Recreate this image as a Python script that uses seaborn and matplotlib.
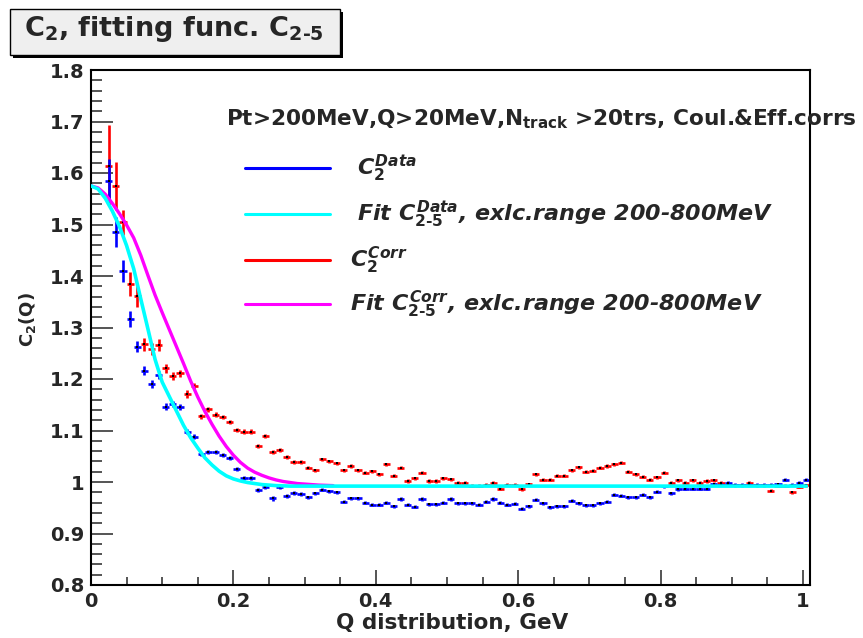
import numpy as np
import pandas as pd
import matplotlib
matplotlib.use("Agg")
import matplotlib.pyplot as plt
import seaborn as sns
from matplotlib.lines import Line2D
from matplotlib.patches import Rectangle
from matplotlib.ticker import MultipleLocator, FixedLocator

# ---------------------------------------------------------------- data
BIN_WIDTH = 0.01
q_centers = np.round(np.arange(0.025, 1.0051, BIN_WIDTH), 3)   # 99 bins, Q > 20 MeV

c2_data = [
    1.585, 1.486, 1.410, 1.317, 1.263, 1.216, 1.190, 1.208, 1.146, 1.151,
    1.145, 1.098, 1.088, 1.055, 1.058, 1.059, 1.052, 1.046, 1.025, 1.007,
    1.008, 0.985, 0.990, 0.968, 0.990, 0.972, 0.979, 0.977, 0.970, 0.978,
    0.985, 0.982, 0.980, 0.962, 0.968, 0.968, 0.960, 0.956, 0.956, 0.960,
    0.953, 0.967, 0.956, 0.952, 0.967, 0.957, 0.957, 0.960, 0.967, 0.959,
    0.959, 0.959, 0.956, 0.962, 0.967, 0.960, 0.956, 0.958, 0.948, 0.953,
    0.966, 0.959, 0.951, 0.953, 0.953, 0.964, 0.959, 0.955, 0.955, 0.959,
    0.962, 0.975, 0.973, 0.970, 0.970, 0.975, 0.970, 0.981, 0.992, 0.978,
    0.986, 0.987, 0.987, 0.987, 0.987, 0.996, 0.995, 0.999, 0.995, 0.995,
    0.995, 0.995, 0.995, 0.995, 0.996, 1.004, 0.995, 0.999, 1.004,
]
c2_data_err = [
    0.042, 0.029, 0.021, 0.016, 0.011, 0.009, 0.008, 0.008, 0.007, 0.006,
    0.006, 0.005, 0.005, 0.004, 0.004, 0.004, 0.004, 0.004, 0.004, 0.004,
    0.004, 0.004, 0.004, 0.004, 0.004, 0.004, 0.004, 0.004, 0.003, 0.003,
    0.003, 0.003, 0.003, 0.003, 0.003, 0.003, 0.003, 0.003, 0.003, 0.003,
    0.003, 0.003, 0.003, 0.003, 0.003, 0.003, 0.003, 0.003, 0.003, 0.003,
    0.003, 0.003, 0.003, 0.003, 0.003, 0.003, 0.003, 0.003, 0.003, 0.003,
    0.003, 0.003, 0.003, 0.003, 0.003, 0.003, 0.003, 0.003, 0.003, 0.003,
    0.003, 0.003, 0.003, 0.003, 0.003, 0.003, 0.003, 0.003, 0.003, 0.003,
    0.003, 0.003, 0.003, 0.003, 0.003, 0.003, 0.003, 0.003, 0.003, 0.003,
    0.003, 0.003, 0.003, 0.003, 0.003, 0.003, 0.003, 0.003, 0.003,
]

c2_corr = [
    1.614, 1.575, 1.504, 1.384, 1.361, 1.267, 1.258, 1.266, 1.221, 1.206,
    1.211, 1.171, 1.187, 1.128, 1.141, 1.131, 1.126, 1.117, 1.101, 1.098,
    1.098, 1.070, 1.090, 1.059, 1.062, 1.048, 1.039, 1.039, 1.028, 1.023,
    1.044, 1.040, 1.036, 1.023, 1.031, 1.023, 1.018, 1.021, 1.015, 1.034,
    1.012, 1.028, 1.002, 1.007, 1.018, 1.002, 1.002, 1.007, 1.005, 0.999,
    0.999, 0.993, 0.993, 0.995, 0.999, 0.987, 0.995, 0.995, 0.986, 0.996,
    1.015, 1.004, 1.004, 1.012, 1.012, 1.023, 1.029, 1.020, 1.022, 1.028,
    1.031, 1.034, 1.037, 1.020, 1.015, 1.010, 1.004, 1.009, 1.018, 0.999,
    1.003, 0.999, 1.003, 0.999, 1.002, 1.003, 0.998, 0.995, 0.994, 0.994,
    0.999, 0.994, 0.994, 0.983, 0.993, 0.993, 0.980, 0.991, 0.994,
]
c2_corr_err = [
    0.079, 0.047, 0.024, 0.023, 0.021, 0.013, 0.011, 0.011, 0.009, 0.008,
    0.007, 0.007, 0.006, 0.005, 0.005, 0.004, 0.004, 0.004, 0.004, 0.004,
    0.004, 0.004, 0.004, 0.004, 0.004, 0.004, 0.004, 0.004, 0.003, 0.003,
    0.003, 0.003, 0.003, 0.003, 0.003, 0.003, 0.003, 0.003, 0.003, 0.003,
    0.003, 0.003, 0.003, 0.003, 0.003, 0.003, 0.003, 0.003, 0.003, 0.003,
    0.003, 0.003, 0.003, 0.003, 0.003, 0.003, 0.003, 0.003, 0.003, 0.003,
    0.003, 0.003, 0.003, 0.003, 0.003, 0.003, 0.003, 0.003, 0.003, 0.003,
    0.003, 0.003, 0.003, 0.003, 0.003, 0.003, 0.003, 0.003, 0.003, 0.003,
    0.003, 0.003, 0.003, 0.003, 0.003, 0.003, 0.003, 0.003, 0.003, 0.003,
    0.003, 0.003, 0.003, 0.003, 0.003, 0.003, 0.003, 0.003, 0.003,
]

# fitted C2-5 curves (sampled)
fit_data_q = [0.00, 0.01, 0.02, 0.03, 0.04, 0.05, 0.06, 0.07, 0.08, 0.09,
              0.10, 0.11, 0.12, 0.13, 0.14, 0.15, 0.16, 0.17, 0.18, 0.19,
              0.20, 0.21, 0.22, 0.23, 0.24, 0.25, 0.26, 0.28, 0.30, 1.005]
fit_data_c = [1.575, 1.569, 1.551, 1.526, 1.496, 1.459, 1.414, 1.355, 1.297, 1.238,
              1.194, 1.166, 1.138, 1.110, 1.086, 1.066, 1.047, 1.033, 1.021, 1.012,
              1.006, 1.002, 0.999, 0.997, 0.995, 0.994, 0.993, 0.992, 0.992, 0.992]

fit_corr_q = [0.00, 0.01, 0.02, 0.03, 0.04, 0.05, 0.06, 0.07, 0.08, 0.09,
              0.10, 0.11, 0.12, 0.13, 0.14, 0.15, 0.16, 0.17, 0.18, 0.19,
              0.20, 0.21, 0.22, 0.23, 0.24, 0.25, 0.26, 0.27, 0.28, 0.29,
              0.30, 0.32, 0.34]
fit_corr_c = [1.575, 1.571, 1.559, 1.541, 1.521, 1.499, 1.474, 1.440, 1.401, 1.363,
              1.329, 1.296, 1.263, 1.230, 1.196, 1.165, 1.137, 1.112, 1.089, 1.069,
              1.052, 1.038, 1.027, 1.019, 1.013, 1.008, 1.004, 1.001, 0.999, 0.997,
              0.996, 0.994, 0.993]

x_ticks = [0.0, 0.2, 0.4, 0.6, 0.8, 1.0]
x_tick_labels = ["0", "0.2", "0.4", "0.6", "0.8", "1"]
y_ticks = [0.8, 0.9, 1.0, 1.1, 1.2, 1.3, 1.4, 1.5, 1.6, 1.7, 1.8]
y_tick_labels = ["0.8", "0.9", "1", "1.1", "1.2", "1.3", "1.4", "1.5", "1.6", "1.7", "1.8"]

# ---------------------------------------------------------------- style
sns.set_style("ticks")
plt.rcParams["font.family"] = ["DejaVu Sans"]
plt.rcParams["font.weight"] = "bold"
plt.rcParams["mathtext.fontset"] = "custom"
plt.rcParams["mathtext.rm"] = "DejaVu Sans:bold"
plt.rcParams["mathtext.bf"] = "DejaVu Sans:bold"
plt.rcParams["mathtext.it"] = "DejaVu Sans:italic:bold"
plt.rcParams["mathtext.default"] = "rm"

BLUE, CYAN, RED, MAGENTA = "#0000ff", "#00ffff", "#ff0000", "#ff00ff"
HYPHEN = "\u2010"

W, H = 863, 638
fig = plt.figure(figsize=(W / 100, H / 100), dpi=100)
fig.patch.set_facecolor("white")


def fx(px):
    return px / W


def fy(py):
    return 1 - py / H


ax = fig.add_axes([fx(91), fy(585), fx(810) - fx(91), fy(70) - fy(585)])
ax.set_facecolor("white")

data_df = pd.DataFrame({"Q": q_centers, "C2": c2_data, "err": c2_data_err})
corr_df = pd.DataFrame({"Q": q_centers, "C2": c2_corr, "err": c2_corr_err})

# histograms with bin-width horizontal bars and statistical errors
for df, col in ((corr_df, RED), (data_df, BLUE)):
    ax.errorbar(df["Q"], df["C2"], xerr=BIN_WIDTH / 2, yerr=df["err"], fmt="none",
                ecolor=col, elinewidth=1.9, capsize=0, zorder=2)
    sns.scatterplot(data=df, x="Q", y="C2", ax=ax, color="black", s=1.5,
                    marker="s", linewidth=0, zorder=3, legend=False)

fit_corr_df = pd.DataFrame({"Q": fit_corr_q, "C2": fit_corr_c})
fit_data_df = pd.DataFrame({"Q": fit_data_q, "C2": fit_data_c})
sns.lineplot(data=fit_corr_df, x="Q", y="C2", ax=ax, color=MAGENTA, lw=2.4,
             estimator=None, sort=False, zorder=4)
sns.lineplot(data=fit_data_df, x="Q", y="C2", ax=ax, color=CYAN, lw=2.6,
             estimator=None, sort=False, zorder=5)

ax.set_xlim(0, 1.01)
ax.set_ylim(0.8, 1.8)
ax.xaxis.set_major_locator(FixedLocator(x_ticks))
ax.set_xticklabels(x_tick_labels)
ax.xaxis.set_minor_locator(MultipleLocator(0.05))
ax.yaxis.set_major_locator(FixedLocator(y_ticks))
ax.set_yticklabels(y_tick_labels)
ax.yaxis.set_minor_locator(MultipleLocator(0.02))
ax.tick_params(axis="x", which="major", direction="in", length=11, width=1.1,
               pad=5, labelsize=14, top=False)
ax.tick_params(axis="x", which="minor", direction="in", length=6, width=1.1, top=False)
ax.tick_params(axis="y", which="major", direction="in", length=15.5, width=1.1,
               pad=5, labelsize=14, right=False)
ax.tick_params(axis="y", which="minor", direction="in", length=8, width=1.1, right=False)
for lab in ax.get_xticklabels() + ax.get_yticklabels():
    lab.set_fontweight("bold")
for sp in ax.spines.values():
    sp.set_visible(True)
    sp.set_linewidth(1.5)
    sp.set_color("black")
ax.set_xlabel("")
ax.set_ylabel("")

# axis titles
fig.text(fx(452), fy(623), "Q distribution, GeV", ha="center", va="center",
         fontsize=15.5, fontweight="bold")
fig.text(fx(27), fy(320), "C$_{2}$(Q)", ha="center", va="center", rotation=90,
         fontsize=13, fontweight="bold")

# title box with drop shadow
fig.patches.append(Rectangle((fx(13), fy(58)), fx(330), fy(0) - fy(46),
                             transform=fig.transFigure, facecolor="black",
                             edgecolor="none", zorder=0))
fig.patches.append(Rectangle((fx(10), fy(55)), fx(330), fy(0) - fy(46),
                             transform=fig.transFigure, facecolor="#efefef",
                             edgecolor="black", lw=1.0, zorder=1))
fig.text(fx(24), fy(36), "C$_{2}$, fitting func. C$_{2" + HYPHEN + "5}$", ha="left",
         va="baseline", fontsize=19.5, fontweight="bold", zorder=2)

# legend
fig.text(fx(226), fy(125), "Pt>200MeV,Q>20MeV,N$_{track}$ >20trs, Coul.&Eff.corrs",
         ha="left", va="baseline", fontsize=15.6, fontweight="bold")
legend_rows = [
    (168, BLUE, 357, r"$\mathit{C}_{\mathit{2}}^{\mathit{Data}}$"),
    (214, CYAN, 357, r"Fit $\mathit{C}_{\mathit{2" + HYPHEN + r"5}}^{\mathit{Data}}$, exlc.range 200-800MeV"),
    (260, RED, 350, r"$\mathit{C}_{\mathit{2}}^{\mathit{Corr}}$"),
    (304, MAGENTA, 350, r"Fit $\mathit{C}_{\mathit{2" + HYPHEN + r"5}}^{\mathit{Corr}}$, exlc.range 200-800MeV"),
]
for row_y, col, tx, label in legend_rows:
    fig.lines.append(Line2D([fx(245), fx(330)], [fy(row_y), fy(row_y)],
                            transform=fig.transFigure, color=col, lw=2.2))
    fig.text(fx(tx), fy(row_y + 7), label, ha="left", va="baseline",
             fontsize=16, fontweight="bold", style="italic")

fig.savefig("out.png", dpi=100)
